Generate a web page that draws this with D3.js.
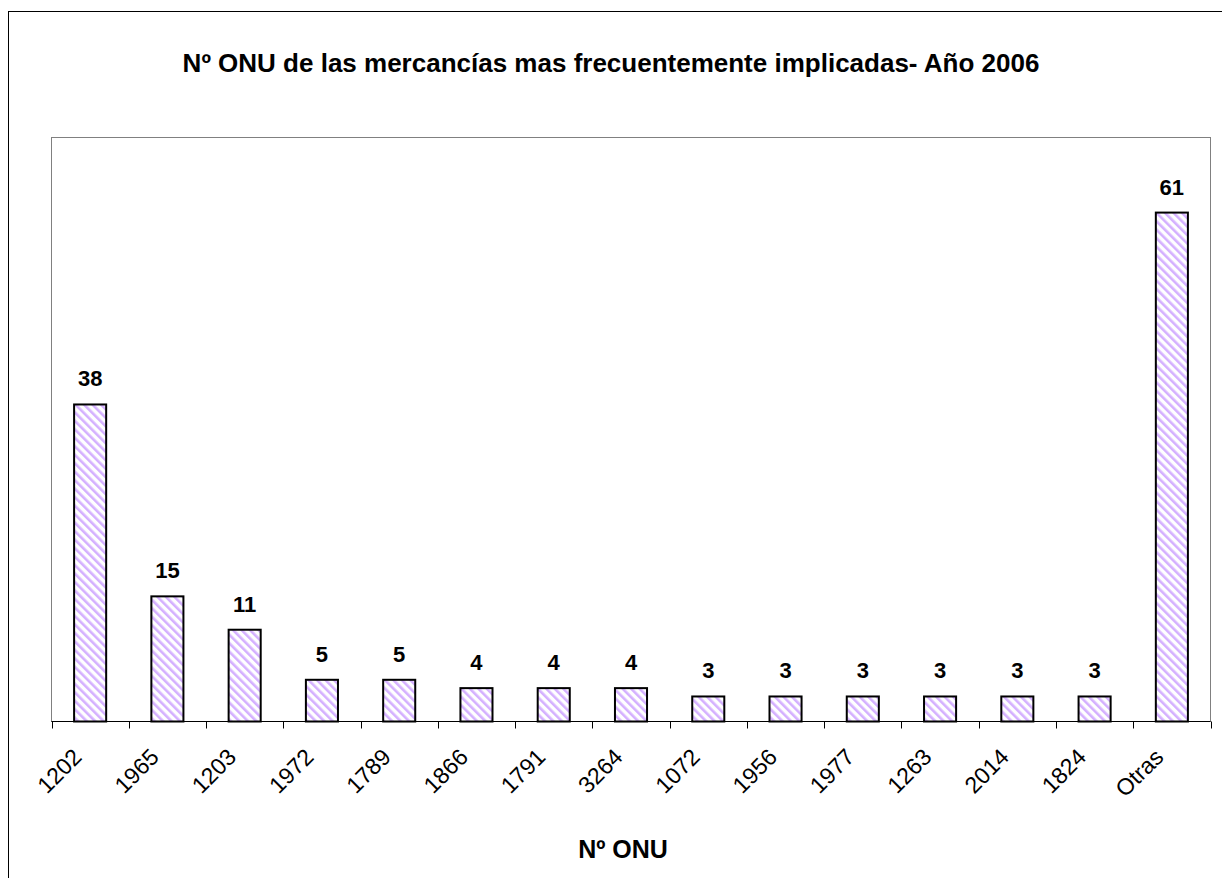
<!DOCTYPE html>
<html>
<head>
<meta charset="utf-8">
<script src="https://cdn.jsdelivr.net/npm/d3@7"></script>
<style>
  body { margin: 0; background: #fff; }
  text { font-family: "Liberation Sans", Arial, sans-serif; }
</style>
</head>
<body>
<svg id="chart"></svg>
<script>
// Datos
const categorias = ["1202", "1965", "1203", "1972", "1789", "1866", "1791", "3264",
                    "1072", "1956", "1977", "1263", "2014", "1824", "Otras"];
const valores = [38, 15, 11, 5, 5, 4, 4, 4, 3, 3, 3, 3, 3, 3, 61];

const titulo = "Nº ONU de las mercancías mas frecuentemente implicadas- Año 2006";
const tituloEjeX = "Nº ONU";

const width = 1222;
const height = 878;
const plot = { left: 51.5, right: 1210.5, top: 137.5, bottom: 721.5 };

const svg = d3.select("#chart")
  .attr("width", width)
  .attr("height", height);

// trama diagonal lila
const defs = svg.append("defs");
const pat = defs.append("pattern")
  .attr("id", "trama")
  .attr("patternUnits", "userSpaceOnUse")
  .attr("width", 6)
  .attr("height", 6)
  .attr("patternTransform", "rotate(-45)");
pat.append("rect").attr("width", 6).attr("height", 6).attr("fill", "#fff");
pat.append("rect").attr("width", 2.6).attr("height", 6).attr("fill", "#d4b0ff");

// marco exterior
svg.append("rect")
  .attr("x", 8.5).attr("y", 11.5)
  .attr("width", 1240).attr("height", 900)
  .attr("fill", "none").attr("stroke", "#000").attr("stroke-width", 1);

// área del gráfico
svg.append("rect")
  .attr("x", plot.left).attr("y", plot.top)
  .attr("width", plot.right - plot.left).attr("height", plot.bottom - plot.top)
  .attr("fill", "#fff").attr("stroke", "#808080").attr("stroke-width", 1);

const x = d3.scaleBand()
  .domain(categorias)
  .range([plot.left, plot.right])
  .paddingInner(0.585)
  .paddingOuter(0.2925);

const xTicks = d3.scaleBand().domain(categorias).range([plot.left, plot.right]);

const y = d3.scaleLinear()
  .domain([0, 70])
  .range([plot.bottom, plot.top]);

// barras
svg.selectAll(".bar")
  .data(valores)
  .enter()
  .append("rect")
  .attr("class", "bar")
  .attr("x", (d, i) => x(categorias[i]))
  .attr("y", d => y(d))
  .attr("width", x.bandwidth())
  .attr("height", d => y(0) - y(d))
  .attr("fill", "url(#trama)")
  .attr("stroke", "#000")
  .attr("stroke-width", 2);

// etiquetas de valor
svg.selectAll(".valor")
  .data(valores)
  .enter()
  .append("text")
  .attr("x", (d, i) => x(categorias[i]) + x.bandwidth() / 2)
  .attr("y", d => y(d) - 18)
  .attr("text-anchor", "middle")
  .attr("font-size", 22)
  .attr("font-weight", "bold")
  .text(d => d);

// eje X
const ejeX = svg.append("g").attr("transform", `translate(0,${plot.bottom})`);
ejeX.append("line")
  .attr("x1", plot.left).attr("x2", plot.right)
  .attr("stroke", "#000");
const bordes = categorias.map(c => xTicks(c)).concat([plot.right]);
ejeX.selectAll(".tick")
  .data(bordes)
  .enter()
  .append("line")
  .attr("x1", d => Math.round(d) + 0.5).attr("x2", d => Math.round(d) + 0.5)
  .attr("y1", 0).attr("y2", 7)
  .attr("stroke", "#000");

ejeX.selectAll(".lbl")
  .data(categorias)
  .enter()
  .append("text")
  .attr("transform", d => `translate(${xTicks(d) + xTicks.bandwidth() / 2 - 7},${37}) rotate(-45)`)
  .attr("text-anchor", "end")
  .attr("font-size", 23)
  .text(d => d);

// títulos
svg.append("text")
  .attr("x", 611).attr("y", 72)
  .attr("text-anchor", "middle")
  .attr("font-size", 26)
  .attr("font-weight", "bold")
  .text(titulo);

svg.append("text")
  .attr("x", 623).attr("y", 858)
  .attr("text-anchor", "middle")
  .attr("font-size", 25)
  .attr("font-weight", "bold")
  .text(tituloEjeX);
</script>
</body>
</html>
